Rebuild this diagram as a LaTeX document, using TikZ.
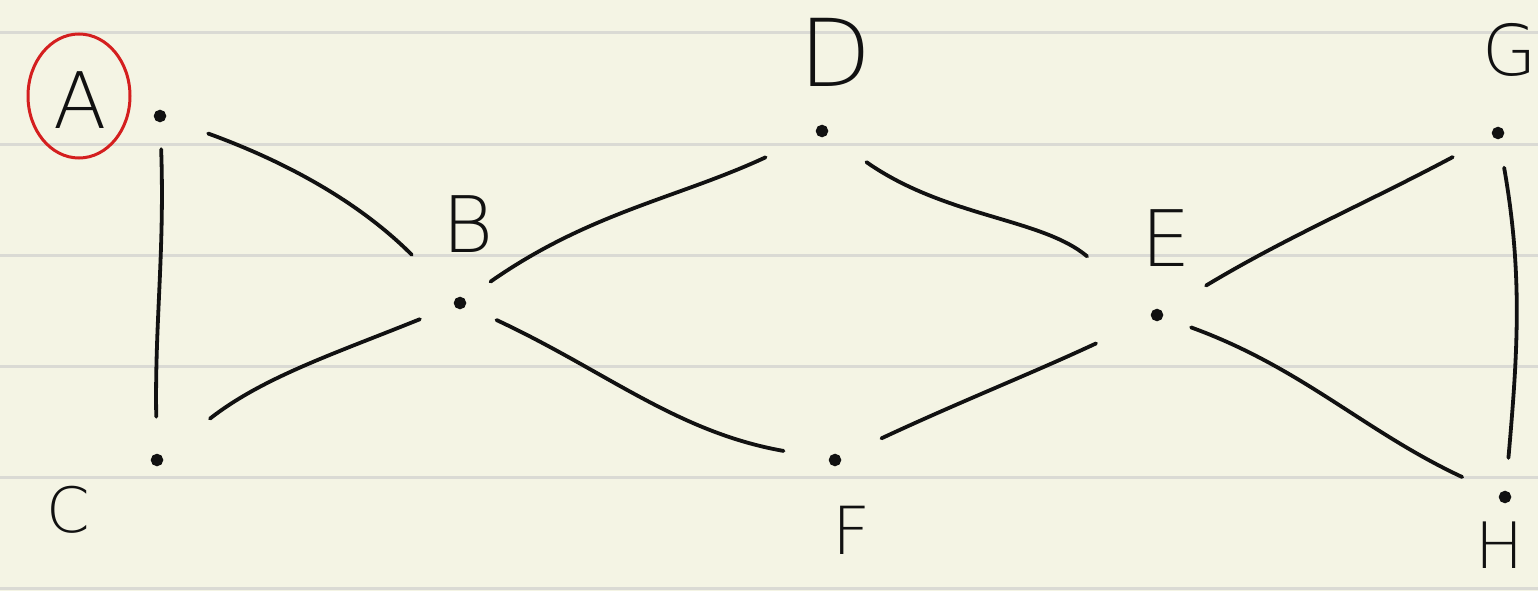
\documentclass[tikz,border=0pt]{standalone}
\usepackage{fontspec}
\newfontfamily\hand{DejaVu Sans ExtraLight}
\definecolor{paper}{HTML}{F4F4E4}
\definecolor{ruleline}{HTML}{DADAD4}
\definecolor{ink}{HTML}{111111}
\definecolor{redink}{HTML}{D41F1F}
\tikzset{
  dot/.style={circle, draw=ink, fill=ink, line width=1.5pt, inner sep=0pt, minimum size=11pt},
  lbl/.style={font=\hand\fontsize{78}{78}\selectfont, text=ink, inner sep=0pt},
  edge/.style={draw=ink, line width=3.8pt, line cap=round},
  paperline/.style={draw=ruleline, line width=3pt}
}
\begin{document}
\begin{tikzpicture}[x=1pt,y=1pt]
\useasboundingbox (0,0) rectangle (1538,-591);
\fill[paper] (0,0) rectangle (1538,-591);
\foreach \yy in {33,144,255,366,477,588}
  \draw[paperline] (0,-\yy) -- (1538,-\yy);
% vertices
\node[dot] (A) at (160,-116) {};
\node[dot] (B) at (460,-303) {};
\node[dot] (C) at (157,-460) {};
\node[dot] (D) at (822,-131) {};
\node[dot] (E) at (1157,-315) {};
\node[dot] (F) at (835,-460) {};
\node[dot] (G) at (1498,-133) {};
\node[dot] (H) at (1505,-497) {};
% labels
\node[lbl] (lA) at (80,-100) {A};
\node[lbl] (lB) at (468,-224) {B};
\node[lbl, scale=0.8] (lC) at (68,-510) {C};
\node[lbl, scale=1.2] (lD) at (836,-52) {D};
\node[lbl] (lE) at (1166,-238) {E};
\node[lbl, scale=0.85] (lF) at (852,-530) {F};
\node[lbl, scale=0.9] (lG) at (1510,-50) {G};
\node[lbl, scale=0.82] (lH) at (1500,-545) {H};
\draw[redink, line width=3pt] (lA.center) ++(-1,4) ellipse [x radius=51, y radius=62];
% edges
\draw[edge, shorten <=27pt, shorten >=37pt] (A) to[out=-88,in=91] (C);
\draw[edge, shorten <=45pt, shorten >=62pt] (A) to[out=-20,in=135] (B);
\draw[edge, shorten <=61pt, shorten >=37pt] (C) to[out=38,in=-158] (B);
\draw[edge, shorten <=31pt, shorten >=56pt] (B) to[out=35,in=-155] (D);
\draw[edge, shorten <=34pt, shorten >=46pt] (B) to[out=-25,in=170] (F);
\draw[edge, shorten <=48pt, shorten >=85pt] (D) to[out=-35,in=140] (E);
\draw[edge, shorten <=45pt, shorten >=61pt] (F) to[out=25,in=-155] (E);
\draw[edge, shorten <=51pt, shorten >=45pt] (E) to[out=31,in=-152] (G);
\draw[edge, shorten <=30pt, shorten >=41pt] (E) to[out=-20,in=155] (H);
\draw[edge, shorten <=29pt, shorten >=33pt] (G) to[out=-80,in=85] (H);
\end{tikzpicture}
\end{document}
